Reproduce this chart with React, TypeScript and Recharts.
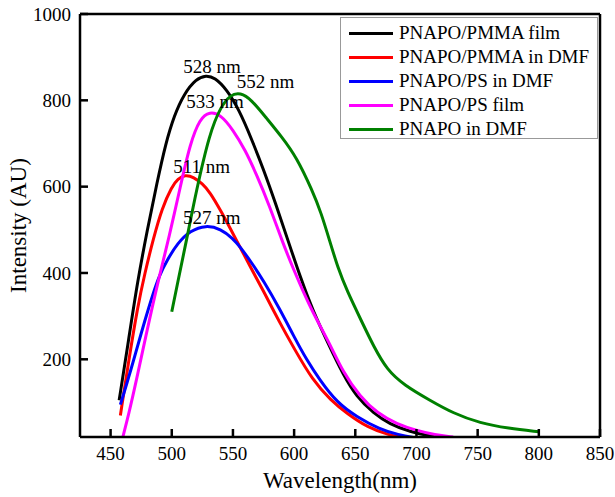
import React from "react"
import {
  LineChart,
  Line,
  XAxis,
  YAxis,
  Legend,
  ReferenceDot,
} from "recharts"

const FONT = '"Liberation Serif", "Times New Roman", serif'

// emission spectra: [wavelength nm, intensity AU]
const pmmaFilm = [
  [457, 105], [465, 250], [472, 380], [480, 500], [488, 610], [495, 700],
  [502, 765], [510, 815], [520, 850], [528, 858], [535, 853], [545, 825],
  [555, 778], [565, 712], [575, 640], [585, 560], [595, 475], [606, 383],
  [615, 315], [629, 229], [640, 165], [651, 113], [665, 75], [678, 50],
  [695, 32], [711, 22], [720, 20],
]
const pmmaDmf = [
  [458, 70], [465, 200], [472, 320], [478, 400], [485, 480], [492, 550],
  [500, 600], [505, 618], [511, 628], [518, 622], [525, 607], [531, 588],
  [540, 545], [553, 475], [565, 410], [575, 358], [588, 286], [600, 225],
  [615, 152], [630, 105], [643, 75], [660, 42], [678, 24], [690, 18],
]
const psDmf = [
  [458, 95], [465, 160], [470, 210], [478, 290], [485, 355], [490, 395],
  [496, 429], [505, 470], [515, 498], [528, 511], [540, 502], [550, 480],
  [556, 460], [565, 425], [575, 382], [588, 318], [600, 252], [610, 200],
  [621, 152], [635, 100], [651, 67], [670, 38], [685, 25], [700, 18],
]
const psFilm = [
  [460, 20], [465, 75], [471, 150], [480, 270], [489, 383], [498, 485],
  [507, 600], [515, 700], [523, 758], [531, 774], [540, 767], [550, 732],
  [560, 685], [569, 630], [580, 555], [590, 475], [600, 405], [607, 360],
  [615, 310], [629, 237], [640, 170], [654, 113], [668, 75], [684, 50],
  [700, 35], [715, 25], [730, 20],
]
const pnapoDmf = [
  [500, 310], [505, 380], [512, 475], [520, 590], [531, 725], [540, 785],
  [548, 813], [556, 818], [565, 802], [577, 760], [590, 715], [602, 668],
  [615, 590], [622, 540], [629, 475], [636, 410], [643, 360], [656, 283],
  [665, 230], [676, 175], [690, 140], [711, 105], [730, 75], [752, 52],
  [775, 40], [800, 32],
]

const seriesNames = [
  "PNAPO/PMMA film",
  "PNAPO/PMMA in DMF",
  "PNAPO/PS in DMF",
  "PNAPO/PS film",
  "PNAPO in DMF",
]
const seriesColors = ["#000000", "#ff0000", "#0000ff", "#ff00ff", "#008000"]
const seriesData = [pmmaFilm, pmmaDmf, psDmf, psFilm, pnapoDmf]

const xTicks = [450, 500, 550, 600, 650, 700, 750, 800, 850]
const yTicks = [200, 400, 600, 800, 1000]

const peakLabels = [
  { text: "528 nm", x: 532.8, y: 880 },
  { text: "552 nm", x: 576.7, y: 845 },
  { text: "533 nm", x: 535.3, y: 797 },
  { text: "511 nm", x: 524.4, y: 647 },
  { text: "527 nm", x: 532.6, y: 529 },
]

const toRows = (pts: number[][]) => pts.map(([wl, v]) => ({ wl, v }))

// ticks point into the plot
const XTick = (props: any) => {
  const x = Number(props.x)
  const y = Number(props.y)
  return (
    <g>
      <rect x={x - 1.25} y={y - 8} width={2.5} height={8} fill="#000" />
      <text x={x} y={y + 23} textAnchor="middle" fontFamily={FONT} fontSize={19} fill="#000">
        {props.payload.value}
      </text>
    </g>
  )
}

const YTick = (props: any) => {
  const x = Number(props.x)
  const y = Number(props.y)
  return (
    <g>
      <rect x={x} y={y - 1.25} width={8} height={2.5} fill="#000" />
      <text x={x - 9} y={y} dy="0.35em" textAnchor="end" fontFamily={FONT} fontSize={19} fill="#000">
        {props.payload.value}
      </text>
    </g>
  )
}

const LegendBox = () => (
  <div
    style={{
      border: "1px solid #999",
      background: "#fff",
      width: 258,
      height: 122,
      boxSizing: "border-box",
      padding: "3px 0 0 8px",
      fontFamily: FONT,
      fontSize: 19,
      color: "#000",
    }}
  >
    {seriesNames.map((name, i) => (
      <div key={name} style={{ display: "flex", alignItems: "center", height: 24 }}>
        <div style={{ width: 44, height: 3, background: seriesColors[i], marginRight: 6 }} />
        <span style={{ lineHeight: "24px", whiteSpace: "nowrap" }}>{name}</span>
      </div>
    ))}
  </div>
)

export default function App() {
  return (
    <div style={{ position: "absolute", left: 0, top: 0, background: "#fff" }}>
      <LineChart width={615} height={497} margin={{ top: 13, right: 14, bottom: 30, left: 0 }}>
        <XAxis
          xAxisId="b"
          type="number"
          dataKey="wl"
          domain={[425, 850]}
          ticks={xTicks}
          allowDataOverflow
          height={30}
          tickSize={0}
          tickMargin={0}
          tickLine={false}
          tick={<XTick />}
          axisLine={{ stroke: "#000", strokeWidth: 2.5 }}
          label={{
            value: "Wavelength(nm)",
            position: "bottom",
            offset: 5,
            style: { fontFamily: FONT, fontSize: 23, fill: "#000" },
          }}
        />
        <XAxis
          xAxisId="t"
          orientation="top"
          type="number"
          domain={[425, 850]}
          height={1}
          tick={false}
          tickLine={false}
          axisLine={{ stroke: "#000", strokeWidth: 2.5 }}
        />
        <YAxis
          yAxisId="l"
          type="number"
          domain={[20, 1000]}
          ticks={yTicks}
          allowDataOverflow
          width={80}
          tickSize={0}
          tickMargin={0}
          tickLine={false}
          tick={<YTick />}
          axisLine={{ stroke: "#000", strokeWidth: 2.5 }}
          label={{
            value: "Intensity (AU)",
            angle: -90,
            position: "insideLeft",
            offset: 18,
            style: { textAnchor: "middle", fontFamily: FONT, fontSize: 23, fill: "#000" },
          }}
        />
        <YAxis
          yAxisId="r"
          orientation="right"
          type="number"
          domain={[20, 1000]}
          width={1}
          tick={false}
          tickLine={false}
          axisLine={{ stroke: "#000", strokeWidth: 2.5 }}
        />
        <Legend
          verticalAlign="middle"
          align="center"
          content={<LegendBox />}
          wrapperStyle={{ position: "absolute", left: 340, top: 17, width: 258 }}
        />
        {seriesData.map((pts, i) => (
          <Line
            key={seriesNames[i]}
            xAxisId="b"
            yAxisId="l"
            data={toRows(pts)}
            dataKey="v"
            name={seriesNames[i]}
            type="basis"
            stroke={seriesColors[i]}
            strokeWidth={3}
            dot={false}
            activeDot={false}
            isAnimationActive={false}
          />
        ))}
        {peakLabels.map((p) => (
          <ReferenceDot
            key={p.text}
            xAxisId="b"
            yAxisId="l"
            x={p.x}
            y={p.y}
            r={0}
            fill="none"
            stroke="none"
            ifOverflow="visible"
            label={{
              value: p.text,
              position: "center",
              style: { fontFamily: FONT, fontSize: 19, fill: "#000" },
            }}
          />
        ))}
      </LineChart>
    </div>
  )
}
